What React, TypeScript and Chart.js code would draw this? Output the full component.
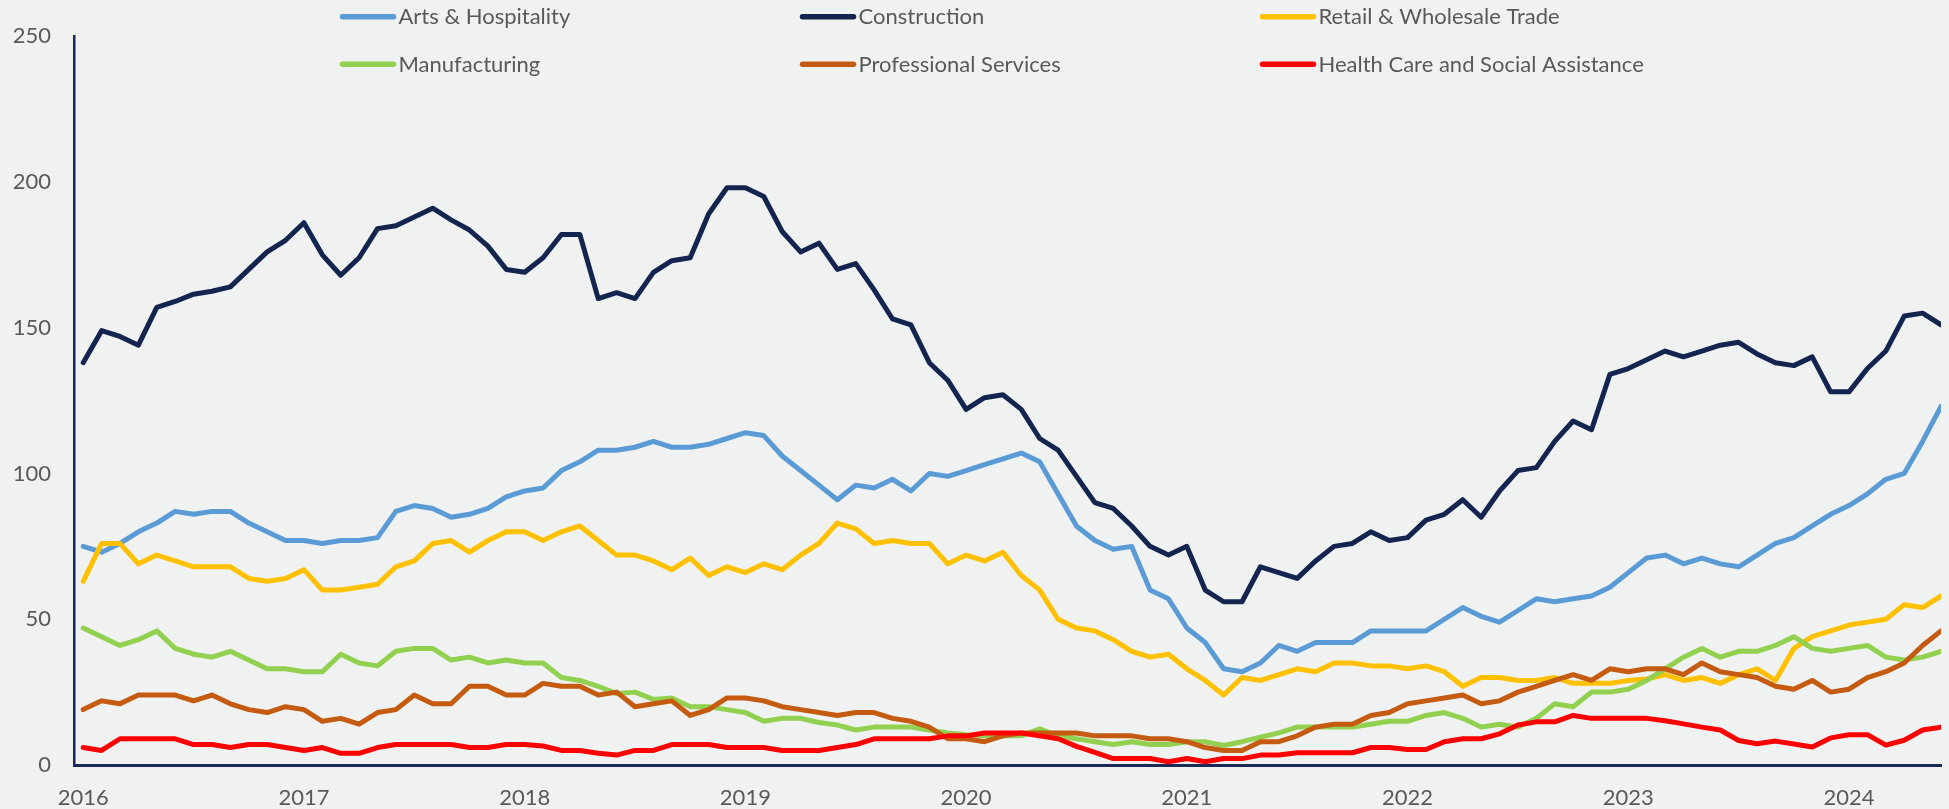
import React, { useEffect, useRef } from "react";
import { Chart, registerables } from "chart.js";

Chart.register(...registerables);

// Monthly series, Jan 2016 .. Jun 2024
const yearLabels: string[] = ["2016", "2017", "2018", "2019", "2020", "2021", "2022", "2023", "2024"];

const seriesNames: string[] = [
  "Arts & Hospitality",
  "Construction",
  "Retail & Wholesale Trade",
  "Manufacturing",
  "Professional Services",
  "Health Care and Social Assistance",
];

const seriesColors: string[] = ["#5B9BD5", "#13254F", "#FFC000", "#92D050", "#C55A11", "#FF0000"];

const arts: number[] = [
  75, 73, 76, 80, 83, 87, 86, 87, 87, 83, 80, 77,
  77, 76, 77, 77, 78, 87, 89, 88, 85, 86, 88, 92,
  94, 95, 101, 104, 108, 108, 109, 111, 109, 109, 110, 112,
  114, 113, 106, 101, 96, 91, 96, 95, 98, 94, 100, 99,
  101, 103, 105, 107, 104, 93, 82, 77, 74, 75, 60, 57,
  47, 42, 33, 32, 35, 41, 39, 42, 42, 42, 46, 46,
  46, 46, 50, 54, 51, 49, 53, 57, 56, 57, 58, 61,
  66, 71, 72, 69, 71, 69, 68, 72, 76, 78, 82, 86,
  89, 93, 98, 100, 111, 123,
];

const construction: number[] = [
  138, 149, 147, 144, 157, 159, 161.5, 162.5, 164, 170, 176, 180,
  186, 175, 168, 174, 184, 185, 188, 191, 187, 183.5, 178, 170,
  169, 174, 182, 182, 160, 162, 160, 169, 173, 174, 189, 198,
  198, 195, 183, 176, 179, 170, 172, 163, 153, 151, 138, 132,
  122, 126, 127, 122, 112, 108, 99, 90, 88, 82, 75, 72,
  75, 60, 56, 56, 68, 66, 64, 70, 75, 76, 80, 77,
  78, 84, 86, 91, 85, 94, 101, 102, 111, 118, 115, 134,
  136, 139, 142, 140, 142, 144, 145, 141, 138, 137, 140, 128,
  128, 136, 142, 154, 155, 151,
];

const retail: number[] = [
  63, 76, 76, 69, 72, 70, 68, 68, 68, 64, 63, 64,
  67, 60, 60, 61, 62, 68, 70, 76, 77, 73, 77, 80,
  80, 77, 80, 82, 77, 72, 72, 70, 67, 71, 65, 68,
  66, 69, 67, 72, 76, 83, 81, 76, 77, 76, 76, 69,
  72, 70, 73, 65, 60, 50, 47, 46, 43, 39, 37, 38,
  33, 29, 24, 30, 29, 31, 33, 32, 35, 35, 34, 34,
  33, 34, 32, 27, 30, 30, 29, 29, 30, 28, 28, 28,
  29, 29.5, 31, 29, 30, 28, 31, 33, 29, 40, 44, 46,
  48, 49, 50, 55, 54, 58,
];

const manufacturing: number[] = [
  47, 44, 41, 43, 46, 40, 38, 37, 39, 36, 33, 33,
  32, 32, 38, 35, 34, 39, 40, 40, 36, 37, 35, 36,
  35, 35, 30, 29, 27, 24.5, 25, 22.5, 23, 20, 20, 19,
  18, 15, 16, 16, 14.6, 13.7, 12, 13, 13, 13, 12, 11,
  10.4, 10, 10, 10, 12.4, 10, 9, 8, 7, 8, 7, 7,
  8, 8, 6.7, 8, 9.5, 11, 13, 13, 13, 13, 14, 15,
  15, 17, 18, 16, 13, 14, 13, 16, 21, 20, 25, 25,
  26, 29, 33, 37, 40, 37, 39, 39, 41, 44, 40, 39,
  40, 41, 37, 36, 37, 39,
];

const professional: number[] = [
  19, 22, 21, 24, 24, 24, 22, 24, 21, 19, 18, 20,
  19, 15, 16, 14, 18, 19, 24, 21, 21, 27, 27, 24,
  24, 28, 27, 27, 24, 25, 20, 21, 22, 17, 19, 23,
  23, 22, 20, 19, 18, 17, 18, 18, 16, 15, 13, 9,
  9, 8, 10, 11, 11, 11, 11, 10, 10, 10, 9, 9,
  8, 6, 5, 5, 8, 8, 10, 13, 14, 14, 17, 18,
  21, 22, 23, 24, 21, 22, 25, 27, 29, 31, 29, 33,
  32, 33, 33, 31, 35, 32, 31, 30, 27, 26, 29, 25,
  26, 30, 32, 35, 41, 46,
];

const health: number[] = [
  6, 5, 9, 9, 9, 9, 7, 7, 6, 7, 7, 6,
  5, 6, 4, 4, 6, 7, 7, 7, 7, 6, 6, 7,
  7, 6.5, 5, 5, 4, 3.4, 5, 5, 7, 7, 7, 6,
  6, 6, 5, 5, 5, 6, 7, 9, 9, 9, 9, 10,
  10, 11, 11, 11, 10, 9, 6.4, 4.3, 2.2, 2.2, 2.2, 1.1,
  2.2, 1.1, 2.2, 2.2, 3.4, 3.4, 4.2, 4.2, 4.2, 4.2, 6, 6,
  5.3, 5.3, 8, 9, 9, 10.7, 13.7, 14.8, 14.8, 17, 16, 16,
  16, 16, 15.2, 14.1, 13, 12, 8.4, 7.3, 8.2, 7.2, 6.2, 9.3,
  10.4, 10.4, 6.8, 8.5, 12, 13,
];

const seriesValues: number[][] = [arts, construction, retail, manufacturing, professional, health];

const BG = "#F0F2F1";
const AXIS = "#1A2A55";
const TEXT = "#595959";
const FONT = "Lato";

const bgPlugin = {
  id: "bgFill",
  beforeDraw(chart: any) {
    const { ctx, width, height } = chart;
    ctx.save();
    ctx.fillStyle = BG;
    ctx.fillRect(0, 0, width, height);
    ctx.restore();
  },
};

const legendPlugin = {
  id: "customLegend",
  afterDatasetsDraw(chart: any) {
    const ctx = chart.ctx;
    const colX = [342.5, 802.5, 1262.5];
    const rowY = [16.7, 64.3];
    ctx.save();
    seriesNames.forEach((name, k) => {
      const x = colX[k % 3];
      const y = rowY[Math.floor(k / 3)];
      ctx.strokeStyle = seriesColors[k];
      ctx.lineWidth = 5.5;
      ctx.lineCap = "round";
      ctx.beginPath();
      ctx.moveTo(x, y);
      ctx.lineTo(x + 51, y);
      ctx.stroke();
      ctx.fillStyle = TEXT;
      ctx.font = `22px ${FONT}`;
      ctx.textBaseline = "alphabetic";
      ctx.textAlign = "left";
      ctx.fillText(name, x + 56, y + 7.6);
    });
    ctx.restore();
  },
};

export default function App() {
  const canvasRef = useRef<HTMLCanvasElement | null>(null);

  useEffect(() => {
    document.body.style.margin = "0";
    document.body.style.overflow = "hidden";
    document.body.style.background = BG;
    const canvas = canvasRef.current;
    if (!canvas) return;

    const n = arts.length;
    const datasets = seriesNames.map((name, k) => ({
      label: name,
      data: seriesValues[k].map((v, i) => ({ x: i, y: v })),
      borderColor: seriesColors[k],
      backgroundColor: seriesColors[k],
      borderWidth: 5,
      pointRadius: 0,
      pointHoverRadius: 0,
      tension: 0,
      fill: false,
      borderJoinStyle: "round" as const,
      borderCapStyle: "round" as const,
      order: seriesNames.length - 1 - k,
    }));

    const chart = new Chart(canvas, {
      type: "line",
      data: { datasets },
      options: {
        responsive: false,
        animation: false,
        devicePixelRatio: 1,
        events: [],
        layout: { padding: { top: 22, right: 8, left: 0, bottom: 0 } },
        plugins: {
          legend: { display: false },
          tooltip: { enabled: false },
          title: { display: false },
        },
        scales: {
          x: {
            type: "linear",
            min: -0.5,
            max: n - 1,
            grid: { display: false, drawTicks: false },
            border: { display: true, color: AXIS, width: 3 },
            afterBuildTicks: (scale: any) => {
              scale.ticks = yearLabels.map((_, k) => ({ value: k * 12 }));
            },
            afterFit: (scale: any) => {
              scale.height = 44;
            },
            ticks: {
              autoSkip: false,
              maxRotation: 0,
              padding: 20,
              color: TEXT,
              font: { family: FONT, size: 22 },
              callback: (v: any) => yearLabels[Math.round(Number(v) / 12)] ?? "",
            },
          },
          y: {
            min: 0,
            max: 250,
            grid: { display: false, drawTicks: false },
            border: { display: true, color: AXIS, width: 2.5 },
            afterFit: (scale: any) => {
              scale.width = 74;
            },
            ticks: {
              stepSize: 50,
              padding: 23,
              color: TEXT,
              font: { family: FONT, size: 22 },
            },
          },
        },
      },
      plugins: [bgPlugin, legendPlugin],
    });

    return () => {
      chart.destroy();
    };
  }, []);

  return (
    <div style={{ width: 1949, height: 809, background: BG, overflow: "hidden" }}>
      <canvas ref={canvasRef} width={1949} height={809} style={{ display: "block", width: 1949, height: 809 }} />
    </div>
  );
}
